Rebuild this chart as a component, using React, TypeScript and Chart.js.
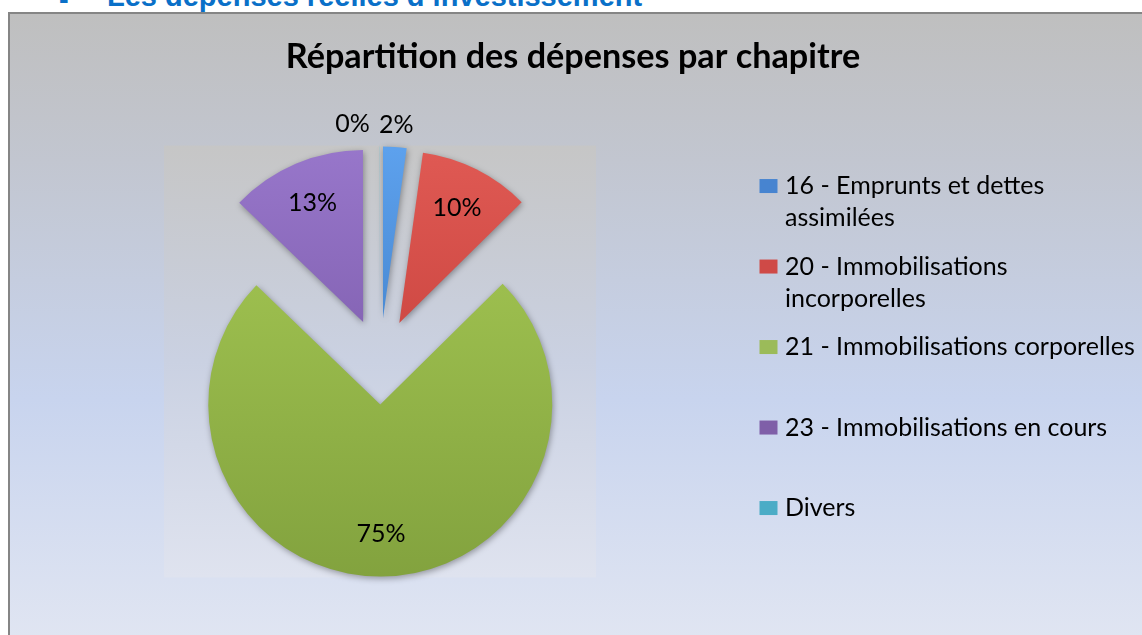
import React, { useEffect, useRef } from 'react';
import { Chart, registerables } from 'chart.js';

Chart.register(...registerables);

// ---- data ----
const heading = 'Les dépenses réelles d’investissement';
const chartTitle = 'Répartition des dépenses par chapitre';
const categories = [
  '16 - Emprunts et dettes assimilées',
  '20 - Immobilisations incorporelles',
  '21 - Immobilisations corporelles',
  '23 - Immobilisations en cours',
  'Divers',
];
const legendLines = [
  ['16 - Emprunts et dettes', 'assimilées'],
  ['20 - Immobilisations', 'incorporelles'],
  ['21 - Immobilisations corporelles', ''],
  ['23 - Immobilisations en cours', ''],
  ['Divers'],
];
const shares = [2.2, 10.4, 74.6, 12.78, 0.02];

// ---- styles ----
const sliceLight = ['#5ea2ee', '#e05a54', '#a9cc56', '#9877cb', '#6cc6dc'];
const sliceDark = ['#2b66ad', '#b8332e', '#82a23e', '#6c4c98', '#31879e'];
const legendColors = ['#4784d0', '#cf4a47', '#9bbb59', '#7f5fa8', '#4bacc6'];
const FONT = 'Lato, "Open Sans", sans-serif';
const EXPLODE = 43;

const piePlugin = {
  id: 'pieDecor',
  afterDatasetUpdate(chart: any, args: any) {
    args.meta.data.forEach((arc: any) => {
      const mid = (arc.startAngle + arc.endAngle) / 2;
      arc.x += Math.cos(mid) * EXPLODE;
      arc.y += Math.sin(mid) * EXPLODE;
    });
  },
  beforeDatasetsDraw(chart: any) {
    const { ctx, chartArea } = chart;
    const cx = (chartArea.left + chartArea.right) / 2;
    const cy = (chartArea.top + chartArea.bottom) / 2;
    const h = 216;
    const g = ctx.createLinearGradient(0, cy - h, 0, cy + h);
    g.addColorStop(0, '#c6c6c6');
    g.addColorStop(0.5, '#cad1e2');
    g.addColorStop(1, '#dfe3ef');
    ctx.save();
    ctx.fillStyle = g;
    ctx.fillRect(cx - h, cy - h, 2 * h, 2 * h);
    ctx.restore();
    ctx.save();
    ctx.shadowColor = 'rgba(0,0,0,0.35)';
    ctx.shadowBlur = 6;
    ctx.shadowOffsetX = 1;
    ctx.shadowOffsetY = 2;
  },
  afterDatasetsDraw(chart: any) {
    const { ctx } = chart;
    ctx.restore();
    const meta = chart.getDatasetMeta(0);
    const vals: number[] = chart.data.datasets[0].data;
    const total = vals.reduce((a, b) => a + b, 0);
    ctx.save();
    ctx.font = `25px ${FONT}`;
    ctx.fillStyle = '#000';
    ctx.textBaseline = 'middle';
    ctx.textAlign = 'center';
    meta.data.forEach((arc: any, i: number) => {
      const pct = (vals[i] / total) * 100;
      const text = Math.round(pct) + '%';
      const mid = (arc.startAngle + arc.endAngle) / 2;
      const inside = pct >= 5;
      const k = inside ? 0.75 : 1.13;
      let px = arc.x + Math.cos(mid) * arc.outerRadius * k;
      const py = arc.y + Math.sin(mid) * arc.outerRadius * k;
      if (!inside && Math.cos(mid) < 0) {
        px -= ctx.measureText(text).width / 2 + 10;
      }
      ctx.fillText(text, px, py);
    });
    ctx.restore();
  },
};

export default function App() {
  const ref = useRef<HTMLCanvasElement>(null);
  useEffect(() => {
    const chart = new Chart(ref.current as HTMLCanvasElement, {
      type: 'pie',
      data: {
        labels: categories,
        datasets: [
          {
            data: shares,
            radius: 172,
            borderWidth: 0,
            backgroundColor: (c: any) => {
              const i = c.dataIndex ?? 0;
              const area = c.chart.chartArea;
              if (!area) return legendColors[i];
              const cy = (area.top + area.bottom) / 2;
              const g = c.chart.ctx.createLinearGradient(0, cy - 220, 0, cy + 220);
              g.addColorStop(0, sliceLight[i]);
              g.addColorStop(1, sliceDark[i]);
              return g;
            },
          } as any,
        ],
      },
      options: {
        responsive: false,
        animation: false,
        devicePixelRatio: 1,
        layout: { padding: { left: 2, right: 11, top: 0, bottom: 73 } },
        plugins: {
          title: {
            display: true,
            text: chartTitle,
            color: '#000',
            font: { family: FONT, size: 34.2, weight: 'bold', lineHeight: 1.2 },
            padding: { top: 22.5, bottom: 79.5 },
          },
          legend: {
            position: 'right',
            align: 'start',
            fullSize: false,
            maxWidth: 386,
            labels: {
              boxWidth: 8,
              boxHeight: 4,
              padding: 16.5,
              color: '#000',
              font: { family: FONT, size: 25, lineHeight: 1.28 },
              generateLabels: () =>
                legendLines.map((text, i) => ({
                  text: text as any,
                  fillStyle: legendColors[i],
                  strokeStyle: legendColors[i],
                  lineWidth: 10,
                  hidden: false,
                  index: i,
                  fontColor: '#000',
                })),
            },
          },
          tooltip: { enabled: false },
        },
      } as any,
      plugins: [piePlugin],
    });
    return () => chart.destroy();
  }, []);

  return (
    <div
      style={{
        position: 'fixed',
        left: 0,
        top: 0,
        width: 1142,
        height: 635,
        overflow: 'hidden',
        background: '#fff',
      }}
    >
      <div
        style={{
          position: 'absolute',
          left: 59,
          top: -15,
          font: 'bold 29px "Liberation Sans", Arial, sans-serif',
          lineHeight: '29px',
          color: '#0a70c8',
          whiteSpace: 'nowrap',
        }}
      >
        -
      </div>
      <div
        style={{
          position: 'absolute',
          left: 107,
          top: -18,
          font: 'bold 29px "Liberation Sans", Arial, sans-serif',
          lineHeight: '29px',
          color: '#0a70c8',
          whiteSpace: 'nowrap',
        }}
      >
        {heading}
      </div>
      <div
        style={{
          position: 'absolute',
          left: 8,
          top: 12,
          width: 1200,
          height: 700,
          border: '2px solid #858585',
          background:
            'linear-gradient(to bottom, #bfbfbf 0%, #c2c6d0 21%, #c8d4ee 55%, #e0e5f2 89%, #e6eaf5 100%)',
        }}
      >
        <canvas
          ref={ref}
          width={1135}
          height={625}
          style={{ position: 'absolute', left: 0, top: 0, width: 1135, height: 625 }}
        />
      </div>
    </div>
  );
}
